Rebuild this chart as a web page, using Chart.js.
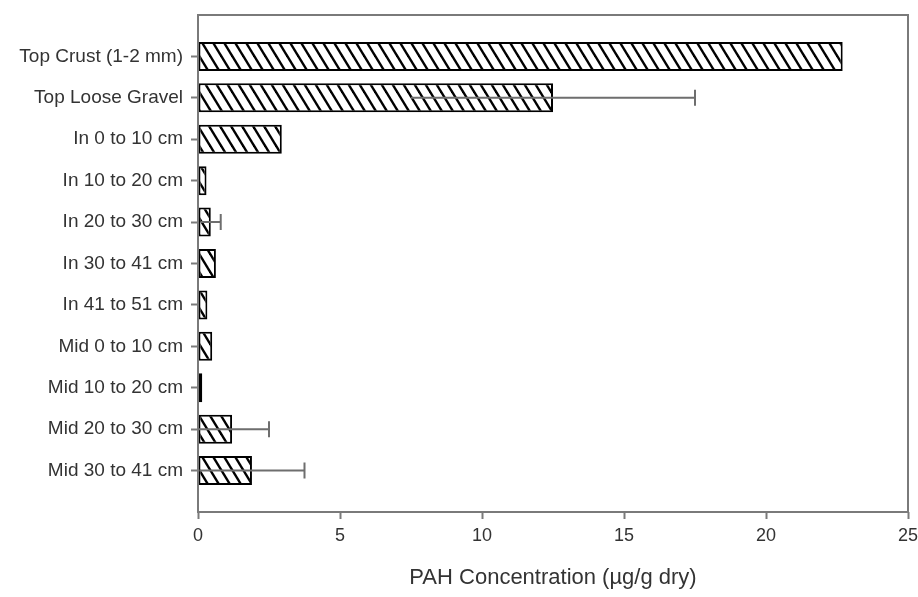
<!DOCTYPE html>
<html>
<head>
<meta charset="utf-8">
<script src="https://cdn.jsdelivr.net/npm/chart.js@4/dist/chart.umd.min.js"></script>
<style>
  html, body { margin: 0; padding: 0; background: #fff; }
  #wrap { width: 918px; height: 597px; }
</style>
</head>
<body>
<div id="wrap"><canvas id="pah"></canvas></div>
<script>
const categories = ['Top Crust (1-2 mm)', 'Top Loose Gravel', 'In 0 to 10 cm', 'In 10 to 20 cm',
  'In 20 to 30 cm', 'In 30 to 41 cm', 'In 41 to 51 cm', 'Mid 0 to 10 cm',
  'Mid 10 to 20 cm', 'Mid 20 to 30 cm', 'Mid 30 to 41 cm'];
const concentration = [22.7, 12.5, 2.95, 0.3, 0.45, 0.63, 0.33, 0.5, 0.15, 1.2, 1.9];
const errors = [0, 5.0, 0, 0, 0.35, 0, 0, 0, 0, 1.3, 1.85];
const xTicks = [0, 5, 10, 15, 20, 25];

const axisGray = '#7a7a7a';
const textColor = '#333333';

// empty slot above and below the categories, like the original layout
const yLabels = [''].concat(categories, ['']);
const yValues = [null].concat(concentration, [null]);
const yErrors = [0].concat(errors, [0]);

function hatch() {
  const w = 11, h = 18;
  const c = document.createElement('canvas');
  c.width = w; c.height = h;
  const g = c.getContext('2d');
  g.fillStyle = '#fff';
  g.fillRect(0, 0, w, h);
  g.strokeStyle = '#000';
  g.lineWidth = 2.4;
  for (const k of [-1, 0, 1]) {
    g.beginPath();
    g.moveTo(k * w - w, -h);
    g.lineTo(k * w + 2 * w, 2 * h);
    g.stroke();
  }
  return g.createPattern(c, 'repeat');
}

const frame = {
  id: 'frame',
  afterDatasetsDraw(chart) {
    const a = chart.chartArea, ctx = chart.ctx;
    ctx.save();
    ctx.strokeStyle = axisGray;
    ctx.lineWidth = 2;
    ctx.strokeRect(a.left, a.top, a.right - a.left, a.bottom - a.top);
    ctx.restore();
  }
};

const errorBars = {
  id: 'errorBars',
  afterDatasetsDraw(chart) {
    const ctx = chart.ctx, x = chart.scales.x;
    const meta = chart.getDatasetMeta(0);
    ctx.save();
    ctx.strokeStyle = '#6e6e6e';
    ctx.lineWidth = 2;
    meta.data.forEach((bar, i) => {
      const v = yValues[i], e = yErrors[i];
      if (v == null || !e) return;
      const x0 = x.getPixelForValue(Math.max(0, v - e));
      const x1 = x.getPixelForValue(v + e);
      ctx.beginPath();
      ctx.moveTo(x0, bar.y);
      ctx.lineTo(x1, bar.y);
      ctx.moveTo(x1, bar.y - 8);
      ctx.lineTo(x1, bar.y + 8);
      ctx.stroke();
    });
    ctx.restore();
  }
};

new Chart(document.getElementById('pah'), {
  type: 'bar',
  data: {
    labels: yLabels,
    datasets: [{
      label: 'PAH',
      data: yValues,
      backgroundColor: hatch(),
      borderColor: '#000',
      borderWidth: 2,
      borderSkipped: false,
      barPercentage: 0.7,
      categoryPercentage: 1
    }]
  },
  options: {
    indexAxis: 'y',
    responsive: true,
    maintainAspectRatio: false,
    animation: false,
    layout: { padding: { top: 15, right: 10, left: 0, bottom: 0 } },
    plugins: {
      legend: { display: false },
      tooltip: { enabled: false }
    },
    scales: {
      x: {
        type: 'linear',
        min: 0,
        max: 25,
        afterFit(s) { s.height = 85; s.paddingLeft = 0; s.paddingRight = 0; },
        afterBuildTicks(s) { s.ticks = xTicks.map(v => ({ value: v })); },
        border: { display: false },
        grid: {
          drawOnChartArea: false,
          drawTicks: true,
          tickLength: 7,
          tickColor: axisGray,
          tickWidth: 2
        },
        ticks: {
          color: textColor,
          padding: 6,
          font: { family: 'Liberation Sans, Arial, sans-serif', size: 18 }
        },
        title: {
          display: true,
          text: 'PAH Concentration (µg/g dry)',
          color: textColor,
          padding: { top: 0, bottom: 6 },
          font: { family: 'Liberation Sans, Arial, sans-serif', size: 22 }
        }
      },
      y: {
        type: 'category',
        offset: false,
        afterFit(s) { s.width = 198; s.paddingTop = 0; s.paddingBottom = 0; },
        border: { display: false },
        grid: {
          offset: false,
          drawOnChartArea: false,
          drawTicks: true,
          tickLength: 7,
          tickWidth: 2,
          tickColor: ctx => (yLabels[ctx.index] ? axisGray : 'rgba(0,0,0,0)')
        },
        ticks: {
          color: textColor,
          padding: 8,
          autoSkip: false,
          font: { family: 'Liberation Sans, Arial, sans-serif', size: 19 }
        }
      }
    }
  },
  plugins: [frame, errorBars]
});
</script>
</body>
</html>
